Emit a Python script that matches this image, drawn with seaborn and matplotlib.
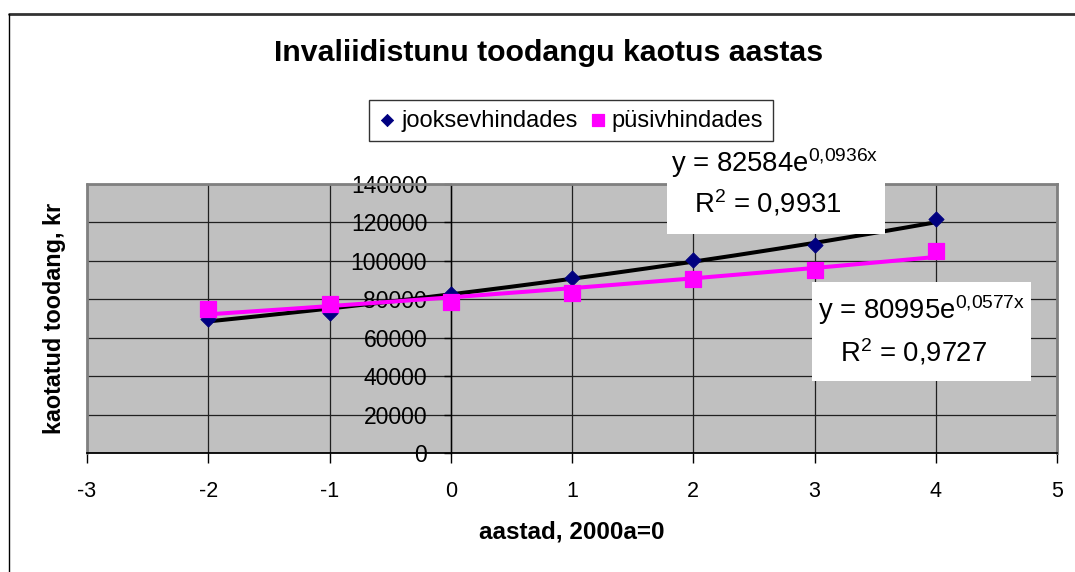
import numpy as np
import pandas as pd
import matplotlib.pyplot as plt
import matplotlib.lines as mlines
import matplotlib.patches as mpatches
import seaborn as sns

# data
years = [-2, -1, 0, 1, 2, 3, 4]
jooksev = [70000, 73000, 83000, 91000, 100500, 108500, 122000]
pusiv = [75000, 77500, 78500, 83500, 90500, 95500, 105000]

# exponential trend lines as printed on the chart
trend_jooksev = (82584, 0.0936)
trend_pusiv = (80995, 0.0577)

W, H = 1075, 572
FONT = "Liberation Sans"

sns.set_theme(style="white")
plt.rcParams["font.family"] = [FONT, "DejaVu Sans"]
plt.rcParams["mathtext.fontset"] = "custom"
plt.rcParams["mathtext.rm"] = FONT
plt.rcParams["mathtext.it"] = FONT
plt.rcParams["axes.unicode_minus"] = False
plt.rcParams["text.color"] = "black"
plt.rcParams["xtick.color"] = "black"
plt.rcParams["ytick.color"] = "black"


def fx(x):
    return x / W


def fy(y):
    return 1 - y / H


df = pd.DataFrame({"aasta": years, "jooksev": jooksev, "pusiv": pusiv})

fig = plt.figure(figsize=(W / 100, H / 100), dpi=100)
fig.patch.set_facecolor("white")
ax = fig.add_axes([fx(87), fy(453), fx(1057) - fx(87), fy(184) - fy(453)])
ax.set_facecolor("#c0c0c0")

# trend lines
xs = np.linspace(min(years), max(years), 200)
for (a, b), col in [(trend_jooksev, "black"), (trend_pusiv, "#ff00ff")]:
    sns.lineplot(x=xs, y=a * np.exp(b * xs), ax=ax, color=col, lw=2.9,
                 zorder=3, legend=False)

sns.scatterplot(data=df, x="aasta", y="jooksev", ax=ax, marker="D", s=60,
                color="#000080", edgecolor="#000080", zorder=4,
                label="jooksevhindades")
sns.scatterplot(data=df, x="aasta", y="pusiv", ax=ax, marker="s", s=120,
                color="#ff00ff", edgecolor="#ff00ff", zorder=4,
                label="püsivhindades")

ax.set_xlim(-3, 5)
ax.set_ylim(0, 140000)
ax.set_xticks(range(-3, 6))
ax.set_yticks(range(0, 140001, 20000))
ax.grid(True, color="#202020", lw=0.9)
ax.set_axisbelow(True)

# y axis crosses at x = 0 like in Excel
ax.spines["left"].set_position(("data", 0))
ax.spines["left"].set_color("black")
ax.spines["left"].set_linewidth(1.0)
ax.spines["bottom"].set_color("black")
ax.spines["bottom"].set_linewidth(1.3)
for s in ["top", "right"]:
    ax.spines[s].set_color("#808080")
    ax.spines[s].set_linewidth(2)
ax.axvline(-3, color="#808080", lw=2, zorder=1, clip_on=False)

ax.tick_params(axis="x", direction="out", length=7, width=1, color="black",
               labelsize=15.5, pad=13, bottom=True)
ax.tick_params(axis="y", direction="out", length=5, width=1, color="black",
               labelsize=16.5, pad=12, left=True)
for t in ax.get_yticklabels():
    t.set_zorder(5)

ax.set_xlabel("")
ax.set_ylabel("")
fig.text(fx(572), fy(532), "aastad, 2000a=0", ha="center", va="center",
         fontsize=17.5, fontweight="bold")
fig.text(fx(55), fy(318), "kaotatud toodang, kr", ha="center", va="center",
         fontsize=16.8, fontweight="bold", rotation=90)
fig.text(fx(549), fy(53), "Invaliidistunu toodangu kaotus aastas",
         ha="center", va="center", fontsize=21.8, fontweight="bold")

leg = ax.legend(loc="center", bbox_to_anchor=(fx(571), fy(120.5)),
                bbox_transform=fig.transFigure, ncol=2, frameon=True,
                fancybox=False, edgecolor="black", fontsize=17,
                handlelength=0.7, handletextpad=0.25, columnspacing=0.5,
                borderpad=0.4, borderaxespad=0, markerscale=0.8)
leg.get_frame().set_linewidth(1.0)

# trend line equations in white boxes
fig.add_artist(mpatches.Rectangle((fx(667), fy(234)), fx(885) - fx(667),
                                  fy(145) - fy(234), transform=fig.transFigure,
                                  facecolor="white", edgecolor="none", zorder=2))
fig.add_artist(mpatches.Rectangle((fx(812), fy(381)), fx(1031) - fx(812),
                                  fy(282) - fy(381), transform=fig.transFigure,
                                  facecolor="white", edgecolor="none", zorder=2))
labels = [
    (775, 163, r"y = 82584e$^{\mathrm{0{,}0936x}}$"),
    (768, 203, r"R$^{\mathrm{2}}$ = 0,9931"),
    (922, 310, r"y = 80995e$^{\mathrm{0{,}0577x}}$"),
    (914, 352, r"R$^{\mathrm{2}}$ = 0,9727"),
]
for x, y, s in labels:
    fig.text(fx(x), fy(y), s, ha="center", va="center", fontsize=19.8, zorder=3)

# chart area frame (cut off on the right and bottom)
fig.add_artist(mlines.Line2D([fx(9), 1], [fy(14), fy(14)], color="#333333",
                             lw=2, transform=fig.transFigure))
fig.add_artist(mlines.Line2D([fx(9), fx(9)], [fy(14), 0], color="black",
                             lw=1, transform=fig.transFigure))

fig.savefig("out.png", dpi=100)
